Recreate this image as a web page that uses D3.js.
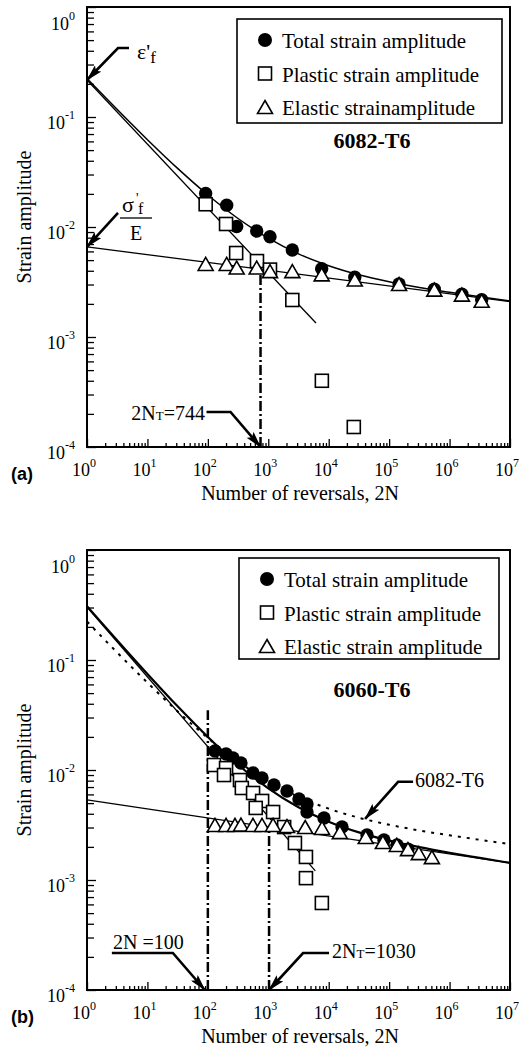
<!DOCTYPE html>
<html>
<head>
<meta charset="utf-8">
<script src="https://cdn.jsdelivr.net/npm/d3@7"></script>
<style>
body { margin: 0; background: #fff; }
svg { display: block; }
text { font-family: "Liberation Serif", "Times New Roman", serif; fill: #000; }
text.tag { font-family: "Liberation Sans", Arial, sans-serif; font-weight: bold; }
</style>
</head>
<body>
<div id="chart"></div>
<script>
// ---- data: [2N, strain amplitude] ----
// (a) 6082-T6
const totalA = [[92, 0.0202], [205, 0.0158], [300, 0.0101], [643, 0.0092], [1067, 0.00816], [2500, 0.00618],
    [7650, 0.00417], [27000, 0.00349], [146000, 0.00303], [559000, 0.00272], [1.6e6, 0.00245], [3.4e6, 0.00218]];
const plasticA = [[92, 0.0161], [200, 0.01065], [294, 0.0058], [650, 0.0049], [1067, 0.0041], [2500, 0.00217],
    [7700, 0.0004], [26000, 0.000152]];
const elasticA = [[92, 0.00452], [205, 0.00452], [300, 0.00419], [643, 0.00419], [1067, 0.00389], [2500, 0.00389],
    [7650, 0.00363], [27000, 0.00326], [146000, 0.00297], [559000, 0.00264], [1.6e6, 0.00238], [3.4e6, 0.00209]];
const plasticFitA = [[1, 0.217], [6150, 0.00134]];
const elasticFitA = [[1, 0.0066], [1e7, 0.0021]];
const totalFitA = [[1, 0.2236], [10, 0.0622], [31.6, 0.0341], [100, 0.01955], [316, 0.01195], [1000, 0.00791],
    [3160, 0.0057], [1e4, 0.00445], [31600, 0.00368], [1e5, 0.00318], [316000, 0.00282], [1e6, 0.00255],
    [3.16e6, 0.00232], [1e7, 0.00212]];
const transitionA = [[744, 1e-4], [744, 0.0045]];

// (b) 6060-T6
const totalB = [[131, 0.0149], [200, 0.01397], [261, 0.01285], [353, 0.01158], [558, 0.0094], [787, 0.00846],
    [1242, 0.00731], [2040, 0.00645], [3220, 0.00545], [4370, 0.00491], [4370, 0.00415], [8350, 0.00366],
    [16600, 0.00303], [43000, 0.00257], [82000, 0.00231], [135000, 0.00208], [205000, 0.00191]];
const plasticB = [[126, 0.0111], [200, 0.0104], [185, 0.009], [340, 0.0081], [365, 0.00686], [560, 0.00618],
    [790, 0.00523], [620, 0.00452], [1200, 0.00415], [1830, 0.00303], [2760, 0.00217], [4200, 0.00162],
    [4200, 0.00104], [7700, 0.000618]];
const elasticB = [[131, 0.0031], [200, 0.0031], [281, 0.0031], [353, 0.00312], [558, 0.0031], [787, 0.0031],
    [1200, 0.0031], [2040, 0.00303], [4080, 0.00297], [7750, 0.00291], [15300, 0.00267], [41000, 0.00241],
    [78800, 0.00217], [134000, 0.00204], [205000, 0.00187], [310000, 0.00172], [510000, 0.00158]];
const plasticFitB = [[1, 0.303], [6000, 0.00121]];
const elasticFitB = [[1, 0.00534], [1e7, 0.00143]];
const totalFitB = [[1, 0.3083], [10, 0.0747], [31.6, 0.0379], [100, 0.01995], [316, 0.01117], [1000, 0.00681],
    [3160, 0.00458], [1e4, 0.00339], [31600, 0.00271], [1e5, 0.00228], [316000, 0.00199], [1e6, 0.00177],
    [3.16e6, 0.00159], [1e7, 0.00143]];
const transitionB1 = [[100, 1e-4], [100, 0.035]];
const transitionB2 = [[1030, 1e-4], [1030, 0.0031]];

// ticks and labels
const xTickExps = [0, 1, 2, 3, 4, 5, 6, 7];
const yTickExps = [0, -1, -2, -3, -4];
const legendA = ["Total strain amplitude", "Plastic strain amplitude", "Elastic strainamplitude"];
const legendB = ["Total strain amplitude", "Plastic strain amplitude", "Elastic strain amplitude"];

const W = 529, H = 1062;
const svg = d3.select("#chart").append("svg")
    .attr("width", W)
    .attr("height", H);

// arrow head
svg.append("defs").append("marker")
    .attr("id", "arrow")
    .attr("markerUnits", "userSpaceOnUse")
    .attr("markerWidth", 17).attr("markerHeight", 9)
    .attr("refX", 16).attr("refY", 4.5)
    .attr("orient", "auto")
    .append("path")
    .attr("d", "M0,0 L17,4.5 L0,9 L3,4.5 Z")
    .attr("fill", "#000");

const left = 87, right = 510;

function triPath(cx, cy) {
    return `M${cx},${cy - 7.5} L${cx + 7.5},${cy + 5.5} L${cx - 7.5},${cy + 5.5} Z`;
}

function drawPanel(p) {
    const g = svg.append("g");
    const x = d3.scaleLog().domain([1, 1e7]).range([left, right]);
    const y = d3.scaleLog().domain([1e-4, 1]).range([p.bottom, p.top]);

    // ticks (inside)
    const majorX = xTickExps.map(e => Math.pow(10, e));
    const majorY = yTickExps.map(e => Math.pow(10, e));
    const minorX = [], minorY = [];
    for (let e = 0; e < 7; e++) for (let k = 2; k < 10; k++) minorX.push(k * Math.pow(10, e));
    for (let e = -4; e < 0; e++) for (let k = 2; k < 10; k++) minorY.push(k * Math.pow(10, e));

    const tickStyle = sel => {
        sel.select(".domain").remove();
        sel.selectAll("line").attr("stroke", "#000").attr("stroke-width", 1.3);
    };
    g.append("g").attr("transform", `translate(0,${p.bottom})`)
        .call(d3.axisBottom(x).tickValues(majorX).tickSize(-8).tickFormat(""))
        .call(tickStyle);
    g.append("g").attr("transform", `translate(0,${p.bottom})`)
        .call(d3.axisBottom(x).tickValues(minorX).tickSize(-4).tickFormat(""))
        .call(tickStyle);
    g.append("g").attr("transform", `translate(${left},0)`)
        .call(d3.axisLeft(y).tickValues(majorY).tickSize(-9).tickFormat(""))
        .call(tickStyle);
    g.append("g").attr("transform", `translate(${left},0)`)
        .call(d3.axisLeft(y).tickValues(minorY).tickSize(-7).tickFormat(""))
        .call(tickStyle);

    // frame
    g.append("rect")
        .attr("x", left).attr("y", p.top)
        .attr("width", right - left).attr("height", p.bottom - p.top)
        .attr("fill", "none").attr("stroke", "#000").attr("stroke-width", 2);

    // tick labels
    xTickExps.forEach(e => {
        const t = g.append("text")
            .attr("x", x(Math.pow(10, e)) - 3)
            .attr("y", p.bottom + 29)
            .attr("text-anchor", "middle")
            .attr("font-size", 18)
            .text("10");
        t.append("tspan").attr("dy", -9).attr("font-size", 12).text(e);
    });
    yTickExps.forEach(e => {
        const t = g.append("text")
            .attr("x", 75)
            .attr("y", y(Math.pow(10, e)) + (e === 0 ? 23 : 12))
            .attr("text-anchor", "end")
            .attr("font-size", 18)
            .text("10");
        t.append("tspan").attr("dy", -10).attr("font-size", 12).text(e);
    });

    // axis titles
    g.append("text")
        .attr("x", 300).attr("y", p.bottom + 53)
        .attr("text-anchor", "middle")
        .attr("font-size", 20)
        .text("Number of reversals, 2N");
    g.append("text")
        .attr("transform", `translate(31,${p.yTitle}) rotate(-90)`)
        .attr("text-anchor", "middle")
        .attr("font-size", 20)
        .text("Strain amplitude");
    g.append("text")
        .attr("class", "tag")
        .attr("x", 11).attr("y", p.bottom + 33)
        .attr("font-size", 18)
        .text(p.tag);

    const line = d3.line().x(d => x(d[0])).y(d => y(d[1]));
    const curve = d3.line().x(d => x(d[0])).y(d => y(d[1])).curve(d3.curveMonotoneX);

    // reference curve (dotted)
    if (p.refCurve) {
        g.append("path").datum(p.refCurve)
            .attr("d", curve)
            .attr("fill", "none").attr("stroke", "#000")
            .attr("stroke-width", 2).attr("stroke-dasharray", "3,6");
    }

    // fit lines
    g.append("path").datum(p.elasticFit).attr("d", line)
        .attr("fill", "none").attr("stroke", "#000").attr("stroke-width", p.thin);
    g.append("path").datum(p.plasticFit).attr("d", line)
        .attr("fill", "none").attr("stroke", "#000").attr("stroke-width", p.thin);
    g.append("path").datum(p.totalFit).attr("d", curve)
        .attr("fill", "none").attr("stroke", "#000").attr("stroke-width", p.thick);

    // transition lines (dash-dot)
    p.transitions.forEach(tr => {
        g.append("path").datum(tr).attr("d", line)
            .attr("fill", "none").attr("stroke", "#000")
            .attr("stroke-width", 2.5).attr("stroke-dasharray", "10,3,2,3");
    });

    // markers
    g.append("g").selectAll("circle").data(p.total).join("circle")
        .attr("cx", d => x(d[0])).attr("cy", d => y(d[1]))
        .attr("r", 6.7).attr("fill", "#000");
    g.append("g").selectAll("rect").data(p.plastic).join("rect")
        .attr("x", d => x(d[0]) - 6.5).attr("y", d => y(d[1]) - 6.5)
        .attr("width", 13).attr("height", 13)
        .attr("fill", "#fff").attr("stroke", "#000").attr("stroke-width", 1.6);
    g.append("g").selectAll("path").data(p.elastic).join("path")
        .attr("d", d => triPath(x(d[0]), y(d[1])))
        .attr("fill", "#fff").attr("stroke", "#000").attr("stroke-width", 1.6);

    // legend
    const lg = g.append("g");
    lg.append("rect")
        .attr("x", p.legend.x).attr("y", p.legend.y)
        .attr("width", p.legend.w).attr("height", p.legend.h)
        .attr("fill", "#fff").attr("stroke", "#000").attr("stroke-width", 1.6);
    p.legendLabels.forEach((lab, i) => {
        const by = p.legend.y + 29 + i * 33.5;
        const mx = p.legend.x + 28;
        if (i === 0) lg.append("circle").attr("cx", mx).attr("cy", by - 8).attr("r", 7).attr("fill", "#000");
        if (i === 1) lg.append("rect").attr("x", mx - 6.5).attr("y", by - 14.5).attr("width", 13).attr("height", 13)
            .attr("fill", "#fff").attr("stroke", "#000").attr("stroke-width", 1.6);
        if (i === 2) lg.append("path").attr("d", triPath(mx, by - 7))
            .attr("fill", "#fff").attr("stroke", "#000").attr("stroke-width", 1.6);
        lg.append("text")
            .attr("x", p.legend.x + 45).attr("y", by)
            .attr("font-size", 21)
            .text(lab);
    });

    // material title
    g.append("text")
        .attr("x", 372).attr("y", p.top + p.titleDy)
        .attr("text-anchor", "middle")
        .attr("font-size", 22).attr("font-weight", "bold")
        .text(p.title);

    return {g, x, y};
}

function arrow(g, tip, pts) {
    const all = pts.concat([tip]);
    g.append("path")
        .attr("d", d3.line()(all))
        .attr("fill", "none").attr("stroke", "#000").attr("stroke-width", 2.6)
        .attr("marker-end", "url(#arrow)");
}

// ---- panel (a) ----
const a = drawPanel({
    top: 7, bottom: 447, yTitle: 217, tag: "(a)", title: "6082-T6", titleDy: 141,
    total: totalA, plastic: plasticA, elastic: elasticA,
    plasticFit: plasticFitA, elasticFit: elasticFitA, totalFit: totalFitA,
    transitions: [transitionA], thin: 1.3, thick: 1.5,
    legend: {x: 237, y: 19, w: 265, h: 104}, legendLabels: legendA
});

// epsilon'f
{
    const tx = a.x(plasticFitA[0][0]), ty = a.y(plasticFitA[0][1]);
    arrow(a.g, [tx, ty], [[tx + 42, ty - 32], [tx + 31, ty - 32]]);
    const t = a.g.append("text").attr("x", 137).attr("y", 59).attr("font-size", 22).text("ε'");
    t.append("tspan").attr("dy", 4).attr("font-size", 17).text("f");
}
// sigma'f / E
{
    const tx = a.x(elasticFitA[0][0]), ty = a.y(elasticFitA[0][1]);
    arrow(a.g, [tx, ty], [[tx + 31, ty - 34]]);
    a.g.append("text").attr("x", 122).attr("y", 212).attr("font-size", 22).text("σ");
    a.g.append("text").attr("x", 136).attr("y", 203).attr("font-size", 14).text("'");
    a.g.append("text").attr("x", 138).attr("y", 214).attr("font-size", 16).text("f");
    a.g.append("line").attr("x1", 120).attr("x2", 152).attr("y1", 218).attr("y2", 218)
        .attr("stroke", "#000").attr("stroke-width", 1.3);
    a.g.append("text").attr("x", 136).attr("y", 240).attr("text-anchor", "middle").attr("font-size", 20).text("E");
}
// 2NT = 744
{
    const tx = a.x(transitionA[0][0]), ty = a.y(transitionA[0][1]);
    arrow(a.g, [tx, ty], [[tx - 54, ty - 35], [tx - 30, ty - 35]]);
    const t = a.g.append("text").attr("x", 205).attr("y", 420).attr("text-anchor", "end").attr("font-size", 20).text("2N");
    t.append("tspan").attr("font-size", 13).text("T");
    t.append("tspan").text("=744");
}

// ---- panel (b) ----
const b = drawPanel({
    top: 550, bottom: 990, yTitle: 770, tag: "(b)", title: "6060-T6", titleDy: 147,
    total: totalB, plastic: plasticB, elastic: elasticB,
    plasticFit: plasticFitB, elasticFit: elasticFitB, totalFit: totalFitB,
    transitions: [transitionB1, transitionB2], thin: 1.3, thick: 2.2,
    refCurve: totalFitA,
    legend: {x: 239, y: 558, w: 260, h: 101}, legendLabels: legendB
});

// 2N = 100
{
    const tx = b.x(transitionB1[0][0]) - 3, ty = b.y(transitionB1[0][1]);
    arrow(b.g, [tx, ty], [[tx - 93, ty - 37], [tx - 32, ty - 37]]);
    b.g.append("text").attr("x", 113).attr("y", 949).attr("font-size", 20).text("2N =100");
}
// 2NT = 1030
{
    const tx = b.x(transitionB2[0][0]), ty = b.y(transitionB2[0][1]);
    arrow(b.g, [tx, ty], [[tx + 60, ty - 37], [tx + 34, ty - 37]]);
    const t = b.g.append("text").attr("x", 332).attr("y", 958).attr("font-size", 20).text("2N");
    t.append("tspan").attr("font-size", 13).text("T");
    t.append("tspan").text("=1030");
}
// 6082-T6 reference curve label
{
    const tx = b.x(40000), ty = b.y(0.0036);
    arrow(b.g, [tx, ty], [[tx + 48, ty - 37], [tx + 33, ty - 37]]);
    b.g.append("text").attr("x", 415).attr("y", 787).attr("font-size", 20).text("6082-T6");
}
</script>
</body>
</html>
